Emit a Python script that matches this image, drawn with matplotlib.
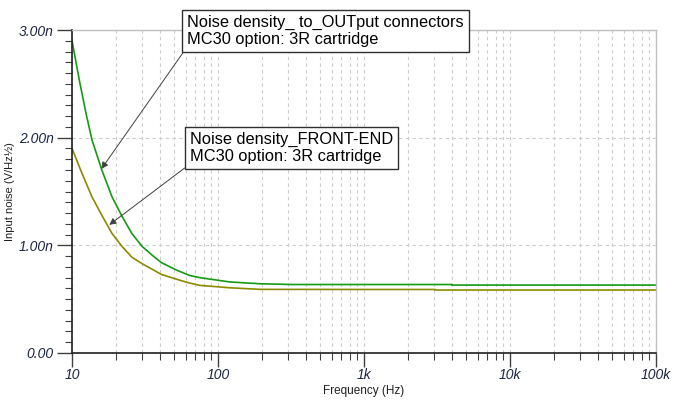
import matplotlib.pyplot as plt
from matplotlib.ticker import FixedLocator, NullFormatter

plt.rcParams['font.family'] = ['Liberation Sans', 'DejaVu Sans']

# Frequency (Hz) / noise (nV/sqrt(Hz))
freq_out = [10, 11.35, 12.5, 13.7, 16, 18.8, 22, 25.7, 30.2, 35.3, 40.9, 52, 64, 75,
            120, 194, 326, 1000, 3990, 4000, 100000]
noise_out = [2.90, 2.50, 2.22, 1.98, 1.70, 1.45, 1.27, 1.11, 0.99, 0.91, 0.84, 0.77, 0.72, 0.70,
             0.66, 0.643, 0.636, 0.636, 0.636, 0.631, 0.631]

freq_fe = [10, 11.7, 13.7, 16, 18.8, 22, 25.7, 30.2, 40.9, 55, 64, 75,
           120, 194, 1000, 3060, 3070, 100000]
noise_fe = [1.90, 1.67, 1.45, 1.28, 1.11, 0.99, 0.89, 0.83, 0.73, 0.675, 0.65, 0.628,
            0.606, 0.591, 0.590, 0.590, 0.585, 0.585]

y_ticks = [0, 1, 2, 3]
y_labels = ['0.00', '1.00n', '2.00n', '3.00n']
x_ticks = [10, 100, 1000, 10000, 100000]
x_labels = ['10', '100', '1k', '10k', '100k']

W, H = 677, 401
fig = plt.figure(figsize=(W / 100, H / 100), dpi=100)
ax = fig.add_axes([72 / W, (H - 353) / H, 584 / W, 323 / H])

ax.plot(freq_out, noise_out, color='#169a16', lw=1.2)
ax.plot(freq_fe, noise_fe, color='#8c8a00', lw=1.2)

ax.set_xscale('log')
ax.set_xlim(10, 100000)
ax.set_ylim(0, 3)

tick_col = '#1c2540'
ax.xaxis.set_major_locator(FixedLocator(x_ticks))
ax.set_xticklabels(x_labels, fontsize=10, style='italic', color=tick_col)
minors = [m * d for d in x_ticks[:-1] for m in range(2, 10)]
ax.xaxis.set_minor_locator(FixedLocator(minors))
ax.xaxis.set_minor_formatter(NullFormatter())

ax.yaxis.set_major_locator(FixedLocator(y_ticks))
ax.set_yticklabels(y_labels, fontsize=10, style='italic', color=tick_col)
ax.yaxis.set_minor_locator(FixedLocator([i / 10 for i in range(31) if i % 10]))

ax.tick_params(axis='y', which='major', direction='out', length=11, width=1, color='#404040', pad=2)
ax.tick_params(axis='x', which='major', direction='out', length=10, width=1, color='#404040', pad=1)
ax.tick_params(axis='both', which='minor', direction='out', length=5, width=0.8, color='#404040')

ax.grid(True, which='both', axis='x', linestyle=(0, (3, 3)), color='#cccccc', lw=0.8)
ax.grid(True, which='major', axis='y', linestyle=(0, (3, 3)), color='#cccccc', lw=0.8)
ax.set_axisbelow(True)

for s in ['left', 'bottom']:
    ax.spines[s].set_color('#202020')
    ax.spines[s].set_linewidth(1.2)
for s in ['top', 'right']:
    ax.spines[s].set_color('#c0c0c0')
    ax.spines[s].set_linewidth(1.0)

ax.set_xlabel('Frequency (Hz)', fontsize=8.5, color='#202020', labelpad=2)
ax.set_ylabel('Input noise (V/Hz½)', fontsize=8, color='#202020', labelpad=3)

box = dict(boxstyle='square,pad=0.3', fc='white', ec='#303030', lw=1)
arrow = dict(arrowstyle='-|>', color='#404040', lw=0.7, shrinkA=0, shrinkB=0,
             mutation_scale=10, relpos=(0, 0))

ax.annotate('Noise density_ to_OUTput connectors\nMC30 option: 3R cartridge',
            xy=(15.9, 1.71), xytext=(187, H - 47), textcoords='figure pixels',
            ha='left', va='bottom', fontsize=11.8, linespacing=1.15,
            bbox=box, arrowprops=arrow)
ax.annotate('Noise density_FRONT-END\nMC30 option: 3R cartridge',
            xy=(18.0, 1.19), xytext=(190, H - 164), textcoords='figure pixels',
            ha='left', va='bottom', fontsize=11.8, linespacing=1.15,
            bbox=box, arrowprops=arrow)

fig.savefig('out.png', dpi=100)
